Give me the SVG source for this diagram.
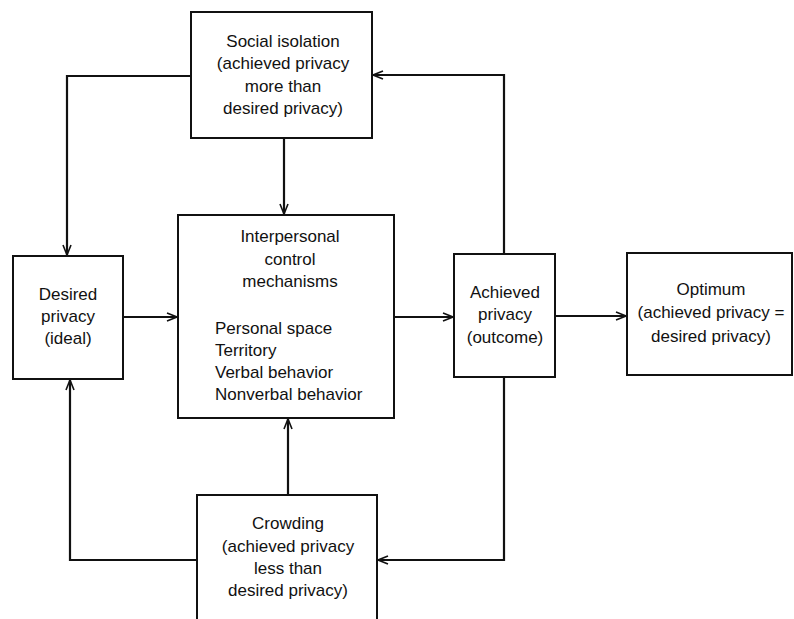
<svg xmlns="http://www.w3.org/2000/svg" width="794" height="619" viewBox="0 0 794 619">
<style>
.box{fill:#fff;stroke:#111;stroke-width:2}
.ln{fill:none;stroke:#111;stroke-width:2.2}
text{font-family:"Liberation Sans",Arial,sans-serif;font-size:17px;fill:#111}
.c{text-anchor:middle}
</style>
<defs>
<marker id="ah" viewBox="0 0 12 10" refX="11" refY="5" markerWidth="12" markerHeight="10" markerUnits="userSpaceOnUse" orient="auto">
<path d="M1,1 L11,5 L1,9 M4,5 L11,5" fill="none" stroke="#111" stroke-width="1.6"/>
</marker>
</defs>
<rect width="794" height="619" fill="#fff"/>
<g id="connectors">
<path class="ln" d="M191,76 H67 V255" marker-end="url(#ah)"/>
<path class="ln" d="M284,138 V214" marker-end="url(#ah)"/>
<path class="ln" d="M123,317 H177" marker-end="url(#ah)"/>
<path class="ln" d="M394,317 H453" marker-end="url(#ah)"/>
<path class="ln" d="M555,316 H626" marker-end="url(#ah)"/>
<path class="ln" d="M504,254 V75 H373" marker-end="url(#ah)"/>
<path class="ln" d="M504,377 V560 H378" marker-end="url(#ah)"/>
<path class="ln" d="M288,495 V419" marker-end="url(#ah)"/>
<path class="ln" d="M197,560 H70 V380" marker-end="url(#ah)"/>
</g>
<g id="social">
<rect class="box" x="191" y="12" width="181" height="126"/>
<text class="c" x="283" y="47">Social isolation</text>
<text class="c" x="283" y="69">(achieved privacy</text>
<text class="c" x="283" y="92">more than</text>
<text class="c" x="283" y="114">desired privacy)</text>
</g>
<g id="desired">
<rect class="box" x="13" y="256" width="110" height="123"/>
<text class="c" x="68" y="300">Desired</text>
<text class="c" x="68" y="322">privacy</text>
<text class="c" x="68" y="344">(ideal)</text>
</g>
<g id="control">
<rect class="box" x="178" y="215" width="216" height="203"/>
<text class="c" x="290" y="242">Interpersonal</text>
<text class="c" x="290" y="265">control</text>
<text class="c" x="290" y="287">mechanisms</text>
<text x="215" y="334">Personal space</text>
<text x="215" y="356">Territory</text>
<text x="215" y="378">Verbal behavior</text>
<text x="215" y="400">Nonverbal behavior</text>
</g>
<g id="achieved">
<rect class="box" x="454" y="254" width="101" height="123"/>
<text class="c" x="505" y="298">Achieved</text>
<text class="c" x="505" y="320">privacy</text>
<text class="c" x="505" y="343">(outcome)</text>
</g>
<g id="optimum">
<rect class="box" x="627" y="253" width="165" height="122"/>
<text class="c" x="711" y="295">Optimum</text>
<text class="c" x="711" y="318">(achieved privacy =</text>
<text class="c" x="711" y="342">desired privacy)</text>
</g>
<g id="crowding">
<rect class="box" x="197" y="495" width="180" height="130"/>
<text class="c" x="288" y="529">Crowding</text>
<text class="c" x="288" y="552">(achieved privacy</text>
<text class="c" x="288" y="574">less than</text>
<text class="c" x="288" y="596">desired privacy)</text>
</g>
</svg>
